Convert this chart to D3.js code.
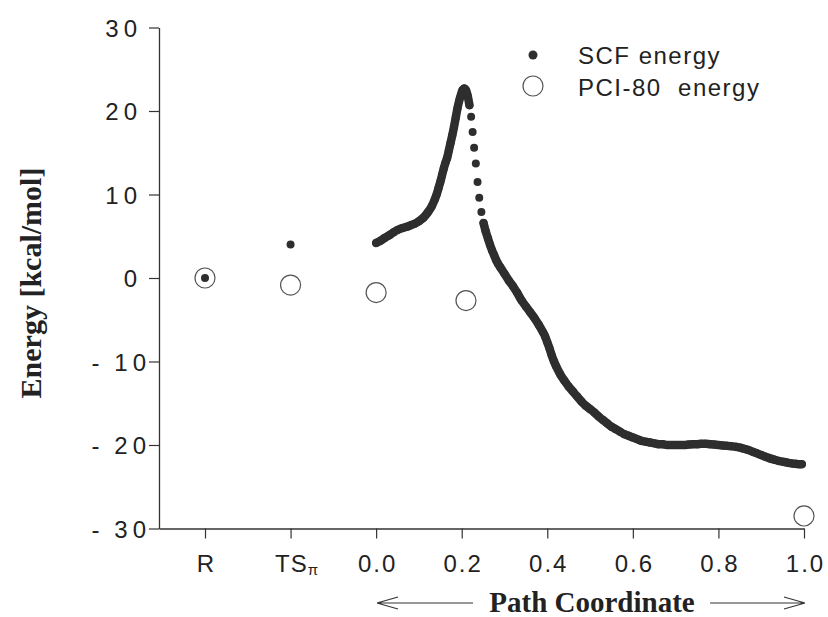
<html>
<head>
<meta charset="utf-8">
<title>SCF and PCI-80 energy along the path</title>
<script src="https://cdn.jsdelivr.net/npm/d3@7"></script>
<style>
body { margin: 0; background: #fff; }
.tick text { font-family: "Liberation Sans", Arial, sans-serif; fill: #222; }
.title { font-family: "Liberation Serif", "Times New Roman", serif; font-weight: bold; fill: #222; }
.legend text { font-family: "Liberation Sans", Arial, sans-serif; fill: #222; }
</style>
</head>
<body>
<div id="chart"></div>
<script>
// tick labels
var xTickValues = [-0.4, -0.2, 0.0, 0.2, 0.4, 0.6, 0.8, 1.0];
var xTickLabels = ["R", "TS", "0.0", "0.2", "0.4", "0.6", "0.8", "1.0"];
var yTickValues = [-30, -20, -10, 0, 10, 20, 30];

// SCF energy at the stationary points R and TS(pi)
var scfStationary = [[-0.4, 0.0], [-0.2, 4.0]];

// SCF energy along the path coordinate
var scfPath = [
  [0.000, 4.2], [0.010, 4.45], [0.020, 4.8], [0.030, 5.1], [0.040, 5.45],
  [0.050, 5.75], [0.060, 5.95], [0.070, 6.1], [0.080, 6.3], [0.090, 6.5],
  [0.100, 6.8], [0.110, 7.2], [0.120, 7.8], [0.130, 8.6], [0.137, 9.4],
  [0.142, 10.1], [0.146, 10.8], [0.150, 11.5], [0.154, 12.3], [0.158, 13.1],
  [0.162, 13.8], [0.166, 14.4], [0.170, 15.3], [0.174, 16.2], [0.178, 17.1],
  [0.182, 18.1], [0.186, 19.2], [0.190, 20.3], [0.194, 21.2], [0.198, 21.9],
  [0.202, 22.5], [0.206, 22.7], [0.210, 22.5], [0.214, 21.8], [0.218, 20.7],
  [0.222, 19.3], [0.2255, 17.5], [0.229, 15.6], [0.233, 13.7], [0.237, 11.5],
  [0.241, 9.6], [0.246, 7.9], [0.251, 6.6], [0.256, 5.6], [0.261, 4.8],
  [0.266, 4.0], [0.271, 3.3], [0.276, 2.7], [0.280, 2.2], [0.285, 1.7],
  [0.290, 1.3], [0.300, 0.5], [0.310, -0.3], [0.320, -1.0], [0.330, -1.8],
  [0.340, -2.7], [0.350, -3.4], [0.360, -4.1], [0.370, -4.8], [0.380, -5.6],
  [0.390, -6.5], [0.395, -7.0], [0.400, -7.7], [0.405, -8.4], [0.410, -9.2],
  [0.415, -9.9], [0.420, -10.5], [0.430, -11.5],
  [0.440, -12.3], [0.450, -13.0], [0.460, -13.6], [0.470, -14.2], [0.480, -14.8],
  [0.490, -15.3], [0.500, -15.7], [0.510, -16.1], [0.520, -16.6], [0.530, -17.0],
  [0.540, -17.4], [0.550, -17.8], [0.560, -18.1], [0.570, -18.4], [0.580, -18.7],
  [0.590, -18.9], [0.600, -19.1], [0.610, -19.3], [0.620, -19.5], [0.630, -19.6],
  [0.640, -19.7], [0.650, -19.8], [0.660, -19.9], [0.670, -19.9], [0.680, -20.0],
  [0.690, -20.0], [0.700, -20.0], [0.710, -20.0], [0.720, -20.0], [0.730, -19.95],
  [0.740, -19.9], [0.750, -19.9], [0.760, -19.85], [0.770, -19.85], [0.780, -19.9],
  [0.790, -19.95], [0.800, -20.0], [0.810, -20.05], [0.820, -20.1], [0.830, -20.15],
  [0.840, -20.2], [0.850, -20.3], [0.860, -20.45], [0.870, -20.6], [0.880, -20.8],
  [0.890, -21.0], [0.900, -21.2], [0.910, -21.4], [0.920, -21.6], [0.930, -21.75],
  [0.940, -21.9], [0.950, -22.0], [0.960, -22.1], [0.970, -22.2], [0.980, -22.25],
  [0.990, -22.3], [0.995, -22.3]
];

// PCI-80 energy
var pciX = [-0.4, -0.2, 0.0, 0.21, 1.0];
var pciY = [0.0, -0.85, -1.75, -2.7, -28.5];

var width = 828, height = 617;
var ink = "#2e2e2e";

var svg = d3.select("#chart").append("svg")
    .attr("width", width)
    .attr("height", height);

var x = d3.scaleLinear().domain([-0.5075, 1.0]).range([159, 804]);
var y = d3.scaleLinear().domain([-30, 30]).range([528.5, 27.5]);

// y axis
var yAxis = svg.append("g")
    .attr("transform", "translate(159,0)")
    .call(d3.axisLeft(y).tickValues(yTickValues).tickSize(10).tickSizeOuter(0)
      .tickFormat(function(d) { return d < 0 ? "-\u2009" + (-d) : String(d); }));
yAxis.select(".domain").attr("stroke", "#333").attr("stroke-width", 1.3);
yAxis.selectAll(".tick line").attr("stroke", "#333").attr("stroke-width", 1.2);
yAxis.selectAll(".tick text")
    .attr("x", function(d) { return d < 0 ? -8 : -17; })
    .attr("font-size", 24)
    .attr("letter-spacing", 5)
    .attr("dy", "0.36em");

// x axis
var xAxis = svg.append("g")
    .attr("transform", "translate(0,528.5)")
    .call(d3.axisBottom(x).tickValues(xTickValues).tickSize(10).tickSizeOuter(0)
      .tickFormat(function(d, i) { return xTickLabels[i]; }));
xAxis.select(".domain").attr("stroke", "#333").attr("stroke-width", 1.3);
xAxis.selectAll(".tick line").attr("stroke", "#333").attr("stroke-width", 1.2);
xAxis.selectAll(".tick text")
    .attr("y", 43)
    .attr("dy", 0)
    .attr("dx", 1)
    .attr("font-size", 24)
    .attr("letter-spacing", 2);

// TS with pi subscript
xAxis.selectAll(".tick text").filter(function(d, i) { return xTickLabels[i] === "TS"; })
    .attr("text-anchor", "start")
    .attr("dx", -16)
    .attr("letter-spacing", 1)
    .append("tspan")
    .attr("font-size", 15)
    .attr("letter-spacing", 0)
    .attr("dy", 3)
    .text("\u03c0");

// axis titles
svg.append("text")
    .attr("class", "title")
    .attr("transform", "translate(41,283) rotate(-90)")
    .attr("text-anchor", "middle")
    .attr("font-size", 30)
    .text("Energy [kcal/mol]");

svg.append("text")
    .attr("class", "title")
    .attr("x", 592)
    .attr("y", 612)
    .attr("text-anchor", "middle")
    .attr("font-size", 29)
    .text("Path Coordinate");

// arrows along the path coordinate
var arrows = svg.append("g").attr("stroke", "#333").attr("stroke-width", 1.2).attr("fill", "none");
arrows.append("path").attr("d", "M377,603 L473,603 M377,603 L398,597 M377,603 L398,609");
arrows.append("path").attr("d", "M710,603 L805,603 M805,603 L784,597 M805,603 L784,609");

// PCI-80 circles
svg.append("g").selectAll("circle")
    .data(pciX)
    .enter().append("circle")
    .attr("cx", function(d) { return x(d); })
    .attr("cy", function(d, i) { return y(pciY[i]); })
    .attr("r", 10)
    .attr("fill", "none")
    .attr("stroke", "#555")
    .attr("stroke-width", 1.2);

// SCF path: where neighbouring dots overlap the plot shows a solid band
var segments = [[scfPath[0]]];
for (var i = 1; i < scfPath.length; i++) {
  var a = scfPath[i - 1], b = scfPath[i];
  var dist = Math.hypot(x(b[0]) - x(a[0]), y(b[1]) - y(a[1]));
  if (dist > 10.5) segments.push([b]);
  else segments[segments.length - 1].push(b);
}
var line = d3.line()
    .x(function(d) { return x(d[0]); })
    .y(function(d) { return y(d[1]); })
    .curve(d3.curveCatmullRom);
svg.append("g").selectAll("path")
    .data(segments.filter(function(s) { return s.length > 1; }))
    .enter().append("path")
    .attr("d", line)
    .attr("fill", "none")
    .attr("stroke", ink)
    .attr("stroke-width", 8.5)
    .attr("stroke-linecap", "round")
    .attr("stroke-linejoin", "round");

// SCF dots
svg.append("g").selectAll("circle")
    .data(scfStationary.concat(scfPath))
    .enter().append("circle")
    .attr("cx", function(d) { return x(d[0]); })
    .attr("cy", function(d) { return y(d[1]); })
    .attr("r", 4)
    .attr("fill", ink);

// legend
var legend = svg.append("g").attr("class", "legend");
legend.append("circle").attr("cx", 533).attr("cy", 55).attr("r", 4.5).attr("fill", ink);
legend.append("circle").attr("cx", 533).attr("cy", 86).attr("r", 10)
    .attr("fill", "none").attr("stroke", "#555").attr("stroke-width", 1.2);
legend.append("text").attr("x", 578).attr("y", 64).attr("font-size", 24)
    .attr("letter-spacing", 1.5).text("SCF energy");
legend.append("text").attr("x", 578).attr("y", 96).attr("font-size", 24)
    .attr("letter-spacing", 1.5)
    .style("white-space", "pre").text("PCI-80  energy");
</script>
</body>
</html>
